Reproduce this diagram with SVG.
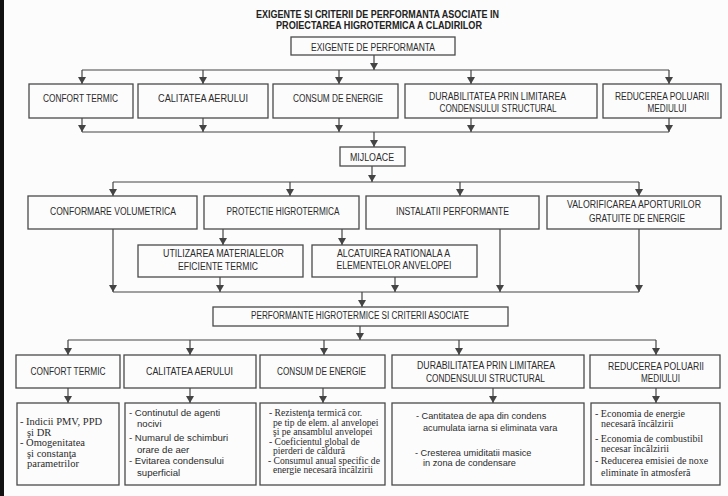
<svg xmlns="http://www.w3.org/2000/svg" width="728" height="496" viewBox="0 0 728 496">
<defs>
<style>
.bg{fill:#fcfcfc}
.box{fill:none;stroke:#4a4a4a;stroke-width:1.3}
.ln{fill:none;stroke:#444;stroke-width:1.2}
.ar{fill:none;stroke:#444;stroke-width:1.2;marker-end:url(#ah)}
.h{font-family:"Liberation Sans",Arial,sans-serif;font-size:10px;fill:#2a2a2a;text-anchor:middle}
.t{font-family:"Liberation Sans",Arial,sans-serif;font-size:10.5px;font-weight:bold;fill:#222;text-anchor:middle}
.s{font-family:"Liberation Sans",Arial,sans-serif;font-size:9.6px;fill:#2a2a2a}
.s9{font-family:"Liberation Sans",Arial,sans-serif;font-size:9.2px;fill:#2a2a2a}
.r{font-family:"Liberation Serif","Times New Roman",serif;font-size:9.6px;fill:#2a2a2a}
.r11{font-family:"Liberation Serif","Times New Roman",serif;font-size:10.5px;fill:#2a2a2a}
.r5{font-family:"Liberation Serif","Times New Roman",serif;font-size:10px;fill:#2a2a2a}
</style>
<marker id="ah" viewBox="0 0 7 8" refX="7" refY="4" markerWidth="7" markerHeight="8" markerUnits="userSpaceOnUse" orient="auto">
<path d="M0,0 L7,4 L0,8 z" fill="#444"/>
</marker>
</defs>
<rect class="bg" x="0" y="0" width="728" height="496"/>
<rect x="0" y="0" width="4" height="496" fill="#111"/>

<g id="title">
<text class="t" x="377.5" y="18" textLength="243" lengthAdjust="spacingAndGlyphs">EXIGENTE SI CRITERII DE PERFORMANTA ASOCIATE IN</text>
<text class="t" x="379" y="28.5" textLength="206" lengthAdjust="spacingAndGlyphs">PROIECTAREA HIGROTERMICA A CLADIRILOR</text>
</g>

<g id="connectors">
<path class="ar" d="M374,55 V70"/>
<path class="ln" d="M82,70 H669"/>
<path class="ar" d="M82,70 V84"/>
<path class="ar" d="M203,70 V84"/>
<path class="ar" d="M339,70 V84"/>
<path class="ar" d="M471,70 V84"/>
<path class="ar" d="M669,70 V84"/>
<path class="ar" d="M82,118 V132"/>
<path class="ar" d="M203,118 V132"/>
<path class="ar" d="M339,118 V132"/>
<path class="ar" d="M471,118 V132"/>
<path class="ar" d="M669,118 V132"/>
<path class="ln" d="M82,132 H669"/>
<path class="ar" d="M374,132 V147"/>
<path class="ar" d="M372,166 V182"/>
<path class="ln" d="M113,182 H639"/>
<path class="ar" d="M113,182 V196"/>
<path class="ar" d="M290,182 V196"/>
<path class="ar" d="M460,182 V196"/>
<path class="ar" d="M639,182 V196"/>
<path class="ar" d="M223,229 V245"/>
<path class="ar" d="M342,229 V245"/>
<path class="ar" d="M113,229 V292"/>
<path class="ar" d="M220,277 V292"/>
<path class="ar" d="M395,277 V292"/>
<path class="ar" d="M500,229 V292"/>
<path class="ar" d="M639,229 V292"/>
<path class="ln" d="M113,292 H639"/>
<path class="ar" d="M362,292 V307"/>
<path class="ar" d="M360,326 V340"/>
<path class="ln" d="M68,340 H656"/>
<path class="ar" d="M68,340 V355"/>
<path class="ar" d="M190,340 V355"/>
<path class="ar" d="M324,340 V355"/>
<path class="ar" d="M459,340 V355"/>
<path class="ar" d="M656,340 V355"/>
<path class="ar" d="M68,388 V403"/>
<path class="ar" d="M190,388 V403"/>
<path class="ar" d="M323,388 V403"/>
<path class="ar" d="M493,388 V403"/>
<path class="ar" d="M656,388 V403"/>
</g>

<g id="exigente">
<rect class="box" x="291" y="37" width="164" height="18"/>
<text class="h" x="373" y="50.5" textLength="124" lengthAdjust="spacingAndGlyphs">EXIGENTE DE PERFORMANTA</text>
</g>

<g id="r1-confort">
<rect class="box" x="29" y="84" width="104" height="34"/>
<text class="h" x="80.5" y="102" textLength="75" lengthAdjust="spacingAndGlyphs">CONFORT TERMIC</text>
</g>
<g id="r1-calitatea">
<rect class="box" x="138" y="84" width="130" height="34"/>
<text class="h" x="203" y="102" textLength="90" lengthAdjust="spacingAndGlyphs">CALITATEA AERULUI</text>
</g>
<g id="r1-consum">
<rect class="box" x="273" y="84" width="125" height="34"/>
<text class="h" x="338" y="102" textLength="90" lengthAdjust="spacingAndGlyphs">CONSUM DE ENERGIE</text>
</g>
<g id="r1-durabilitatea">
<rect class="box" x="405" y="84" width="192" height="34"/>
<text class="h" x="497.5" y="99.5" textLength="137" lengthAdjust="spacingAndGlyphs">DURABILITATEA PRIN LIMITAREA</text>
<text class="h" x="498" y="111.5" textLength="117" lengthAdjust="spacingAndGlyphs">CONDENSULUI STRUCTURAL</text>
</g>
<g id="r1-reducerea">
<rect class="box" x="603" y="84" width="118" height="34"/>
<text class="h" x="662" y="99.5" textLength="94" lengthAdjust="spacingAndGlyphs">REDUCEREA POLUARII</text>
<text class="h" x="667" y="111.5" textLength="39" lengthAdjust="spacingAndGlyphs">MEDIULUI</text>
</g>

<g id="mijloace">
<rect class="box" x="340" y="147" width="65" height="19"/>
<text class="h" x="372" y="160.5" textLength="44" lengthAdjust="spacingAndGlyphs">MIJLOACE</text>
</g>

<g id="r2-conformare">
<rect class="box" x="28" y="196" width="169" height="33"/>
<text class="h" x="113" y="214.5" textLength="126" lengthAdjust="spacingAndGlyphs">CONFORMARE VOLUMETRICA</text>
</g>
<g id="r2-protectie">
<rect class="box" x="204" y="196" width="155" height="33"/>
<text class="h" x="283" y="214.5" textLength="113" lengthAdjust="spacingAndGlyphs">PROTECTIE HIGROTERMICA</text>
</g>
<g id="r2-instalatii">
<rect class="box" x="366" y="196" width="173" height="33"/>
<text class="h" x="452.5" y="214.5" textLength="113" lengthAdjust="spacingAndGlyphs">INSTALATII PERFORMANTE</text>
</g>
<g id="r2-valorificarea">
<rect class="box" x="547" y="196" width="174" height="33"/>
<text class="h" x="634" y="207.5" textLength="134" lengthAdjust="spacingAndGlyphs">VALORIFICAREA APORTURILOR</text>
<text class="h" x="637" y="221.5" textLength="96" lengthAdjust="spacingAndGlyphs">GRATUITE DE ENERGIE</text>
</g>

<g id="sub-utilizarea">
<rect class="box" x="138" y="245" width="165" height="32"/>
<text class="h" x="223.5" y="257" textLength="121" lengthAdjust="spacingAndGlyphs">UTILIZAREA MATERIALELOR</text>
<text class="h" x="218" y="270" textLength="80" lengthAdjust="spacingAndGlyphs">EFICIENTE TERMIC</text>
</g>
<g id="sub-alcatuirea">
<rect class="box" x="312" y="245" width="165" height="32"/>
<text class="h" x="393.5" y="256.5" textLength="113" lengthAdjust="spacingAndGlyphs">ALCATUIREA RATIONALA A</text>
<text class="h" x="394" y="268.5" textLength="115" lengthAdjust="spacingAndGlyphs">ELEMENTELOR ANVELOPEI</text>
</g>

<g id="performante">
<rect class="box" x="213" y="307" width="295" height="19"/>
<text class="h" x="360" y="319" textLength="218" lengthAdjust="spacingAndGlyphs">PERFORMANTE HIGROTERMICE SI CRITERII ASOCIATE</text>
</g>

<g id="r4-confort">
<rect class="box" x="16" y="355" width="104" height="33"/>
<text class="h" x="68" y="374.5" textLength="75" lengthAdjust="spacingAndGlyphs">CONFORT TERMIC</text>
</g>
<g id="r4-calitatea">
<rect class="box" x="124" y="355" width="132" height="33"/>
<text class="h" x="189.5" y="374.5" textLength="87" lengthAdjust="spacingAndGlyphs">CALITATEA AERULUI</text>
</g>
<g id="r4-consum">
<rect class="box" x="260" y="355" width="125" height="33"/>
<text class="h" x="321.5" y="374.5" textLength="89" lengthAdjust="spacingAndGlyphs">CONSUM DE ENERGIE</text>
</g>
<g id="r4-durabilitatea">
<rect class="box" x="392" y="355" width="192" height="33"/>
<text class="h" x="486" y="368.5" textLength="138" lengthAdjust="spacingAndGlyphs">DURABILITATEA PRIN LIMITAREA</text>
<text class="h" x="485.5" y="381.5" textLength="119" lengthAdjust="spacingAndGlyphs">CONDENSULUI STRUCTURAL</text>
</g>
<g id="r4-reducerea">
<rect class="box" x="590" y="355" width="130" height="33"/>
<text class="h" x="656" y="370" textLength="96" lengthAdjust="spacingAndGlyphs">REDUCEREA POLUARII</text>
<text class="h" x="660.5" y="381.5" textLength="39" lengthAdjust="spacingAndGlyphs">MEDIULUI</text>
</g>

<g id="d1-confort">
<rect class="box" x="17" y="403" width="102" height="82"/>
<text class="r11" x="20" y="425">- Indicii PMV, PPD</text>
<text class="r11" x="27" y="435.5">şi DR</text>
<text class="r11" x="20" y="446">- Omogenitatea</text>
<text class="r11" x="27" y="456.5">şi constanţa</text>
<text class="r11" x="27" y="467">parametrilor</text>
</g>
<g id="d2-calitatea">
<rect class="box" x="125" y="403" width="131" height="82"/>
<text class="s" x="129" y="416">- Continutul de agenti</text>
<text class="s" x="137" y="426.5">nocivi</text>
<text class="s" x="129" y="441">- Numarul de schimburi</text>
<text class="s" x="137" y="452.5">orare de aer</text>
<text class="s" x="129" y="464">- Evitarea condensului</text>
<text class="s" x="137" y="476">superficial</text>
</g>
<g id="d3-consum">
<rect class="box" x="260" y="403" width="125" height="82"/>
<text class="r" x="269" y="416">- Rezistenţa termică cor.</text>
<text class="r" x="273" y="425.5">pe tip de elem. al anvelopei</text>
<text class="r" x="273" y="435">şi pe ansamblul anvelopei</text>
<text class="r" x="269" y="444.5">- Coeficientul global de</text>
<text class="r" x="273" y="454">pierderi de căldură</text>
<text class="r" x="268" y="463.5">- Consumul anual specific de</text>
<text class="r" x="273" y="473">energie necesară încălzirii</text>
</g>
<g id="d4-durabilitatea">
<rect class="box" x="392" y="403" width="192" height="82"/>
<text class="s9" x="416" y="418.5">- Cantitatea de apa din condens</text>
<text class="s9" x="423" y="430.5">acumulata iarna si eliminata vara</text>
<text class="s9" x="415" y="455.5">- Cresterea umiditatii masice</text>
<text class="s9" x="423" y="465.5">in zona de condensare</text>
</g>
<g id="d5-reducerea">
<rect class="box" x="591" y="403" width="129" height="82"/>
<text class="r5" x="595" y="417">- Economia de energie</text>
<text class="r5" x="601" y="427">necesară încălzirii</text>
<text class="r5" x="595" y="441.5">- Economia de combustibil</text>
<text class="r5" x="601" y="452">necesar încălzirii</text>
<text class="r5" x="595" y="464">- Reducerea emisiei de noxe</text>
<text class="r5" x="601" y="475.5">eliminate în atmosferă</text>
</g>
</svg>
